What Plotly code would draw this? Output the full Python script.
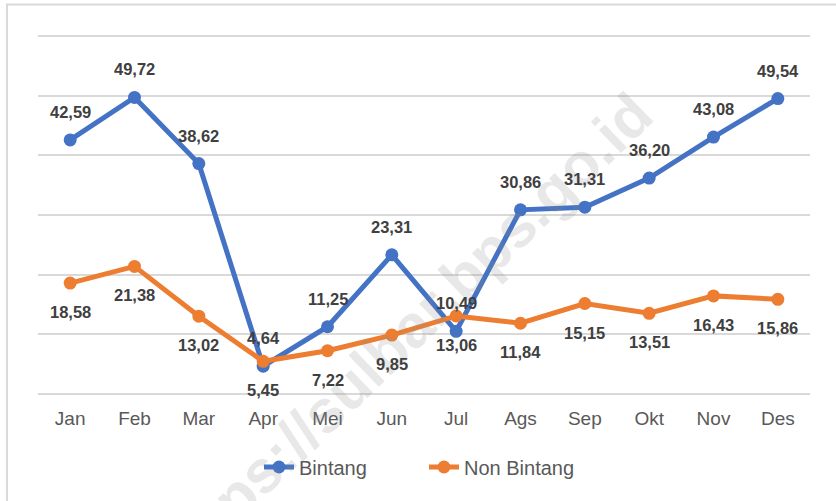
import plotly.graph_objects as go

months = ["Jan", "Feb", "Mar", "Apr", "Mei", "Jun", "Jul", "Ags", "Sep", "Okt", "Nov", "Des"]
bintang = [42.59, 49.72, 38.62, 4.64, 11.25, 23.31, 10.49, 30.86, 31.31, 36.20, 43.08, 49.54]
non_bintang = [18.58, 21.38, 13.02, 5.45, 7.22, 9.85, 13.06, 11.84, 15.15, 13.51, 16.43, 15.86]

BLUE = "#4472C4"
ORANGE = "#ED7D31"
FONT = "Liberation Sans"

def fmt(v):
    return f"{v:.2f}".replace(".", ",")

fig = go.Figure()
fig.add_trace(go.Scatter(x=months, y=bintang, name="Bintang", mode="lines+markers",
                         line=dict(color=BLUE, width=5), marker=dict(color=BLUE, size=13)))
fig.add_trace(go.Scatter(x=months, y=non_bintang, name="Non Bintang", mode="lines+markers",
                         line=dict(color=ORANGE, width=5), marker=dict(color=ORANGE, size=13)))

ann = []
# watermark first
ann.append(dict(x=0.475, y=0.17, xref="paper", yref="paper", text="https://sulbar.bps.go.id",
                xanchor="center", yanchor="middle",
                showarrow=False, textangle=-44,
                font=dict(family=FONT, size=60, color="rgba(140,140,140,0.2)", weight="bold")))
for m, v in zip(months, bintang):
    ann.append(dict(x=m, y=v, text=fmt(v), showarrow=False, yshift=28,
                    font=dict(family=FONT, size=16.5, color="#404040", weight="bold")))
for m, v in zip(months, non_bintang):
    ann.append(dict(x=m, y=v, text=fmt(v), showarrow=False, yshift=-29,
                    font=dict(family=FONT, size=16.5, color="#404040", weight="bold")))

fig.update_layout(
    width=836, height=501,
    margin=dict(l=38, r=26, t=35, b=106, autoexpand=False),
    paper_bgcolor="white", plot_bgcolor="white",
    font=dict(family=FONT, color="#595959"),
    showlegend=True,
    legend=dict(orientation="h", x=0.5, xanchor="center", y=-0.2, yanchor="middle",
                font=dict(family=FONT, size=20, color="#595959"), itemwidth=30,
                entrywidth=120),
    annotations=ann,
    shapes=[dict(type="rect", xref="paper", yref="paper", x0=-0.0402, x1=1.06,
                 y0=-0.35, y1=1.0847, line=dict(color="#d9d9d9", width=2), layer="below")],
)
fig.update_xaxes(range=[-0.5, 11.5], showgrid=False, showline=False, ticks="",
                 tickfont=dict(size=19, color="#595959"),
                 ticklabelstandoff=10, automargin=False)
fig.update_yaxes(range=[-0.2, 60.2], tickvals=[0, 10, 20, 30, 40, 50, 60], showgrid=True,
                 gridcolor="#d9d9d9", gridwidth=2,
                 showticklabels=False, zeroline=False, showline=False, automargin=False)

fig.write_html("out.html", config={"displayModeBar": False},
               post_script="document.body.style.margin='0px';")
